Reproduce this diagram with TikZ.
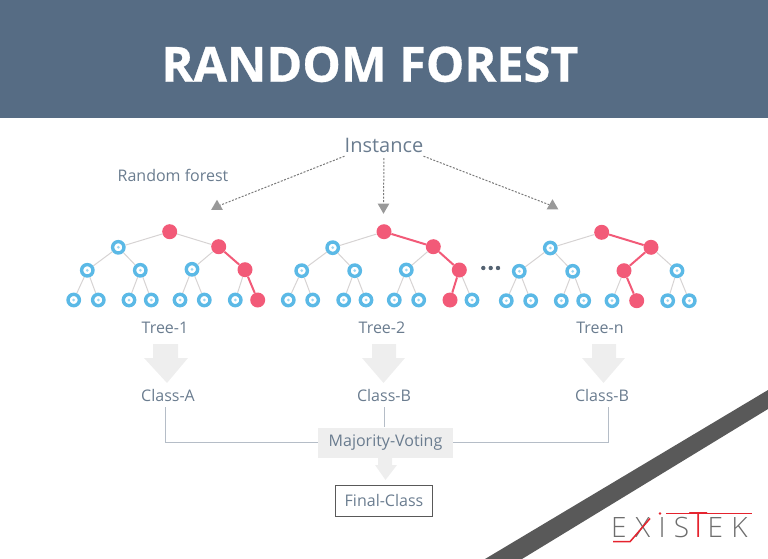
\documentclass[tikz,border=0pt]{standalone}
\usepackage{xcolor}
\usepackage{fontspec}
\usetikzlibrary{shapes.geometric}
\setmainfont{Open Sans}
\newfontfamily\logofont[LetterSpace=30]{Open Sans Light}
\definecolor{headercolor}{HTML}{566c84}
\definecolor{textcolor}{HTML}{6a7c8f}
\definecolor{leafcolor}{HTML}{5bb9e6}
\definecolor{hitcolor}{HTML}{f25a78}
\definecolor{edgecolor}{HTML}{d6d3d3}
\definecolor{blockcolor}{HTML}{eeeeee}
\definecolor{tipcolor}{HTML}{999999}
\definecolor{bandcolor}{HTML}{595959}
\definecolor{logored}{HTML}{e5232e}
\definecolor{logogray}{HTML}{6d6d6d}
\tikzset{
  leaf/.style={circle, draw=leafcolor, line width=3.4pt, fill=white, minimum size=11.4pt, inner sep=0pt,
    path picture={\fill[leafcolor!60] (path picture bounding box.center) circle (1.5pt);}},
  hit/.style={circle, fill=hitcolor, minimum size=15pt, inner sep=0pt},
  edge/.style={draw=edgecolor, line width=1pt},
  hitedge/.style={draw=hitcolor, line width=2pt},
  label/.style={text=textcolor, inner sep=1pt, font=\fontsize{16}{19}\selectfont},
  tiphead/.style={regular polygon, regular polygon sides=3, fill=tipcolor, inner sep=0pt, minimum size=13.5pt},
  dashline/.style={draw=tipcolor!80!black, line width=1pt, dash pattern=on 2pt off 1.5pt},
  classline/.style={draw=textcolor!50, line width=0.8pt},
  dotmark/.style={circle, fill=textcolor!80!black, minimum size=4.4pt, inner sep=0pt}
}

\begin{document}
\begin{tikzpicture}[x=1pt, y=-1pt]%
\useasboundingbox (0,0) rectangle (768,559);%
\fill[headercolor] (0,0) rectangle (768,118);%
\fill[bandcolor] (768,390) -- (768,409) -- (522,559) -- (485,559) -- cycle;%
\node[anchor=base, text=white, inner sep=0pt, font=\fontsize{48.5}{58}\selectfont\bfseries\addfontfeature{FakeBold=0.6}] (title) at (370,81.7) {RANDOM FOREST};%
\node[label, inner sep=0pt, minimum height=22pt, font=\fontsize{20}{24}\selectfont] (instance) at (384,145) {Instance};%
\node[label] (forest) at (173,175) {Random forest};%
\node[tiphead] (tipa) at (217,206.5) {};%
\node[tiphead, shape border rotate=180] (tipb) at (383.5,207) {};%
\node[tiphead] (tipc) at (552.5,206) {};%
\draw[dashline] (instance.south west) -- (tipa);%
\draw[dashline, shorten <=2pt] (instance.south) -- (tipb);%
\draw[dashline] (instance.south east) -- (tipc);%
\node[hit] (a0) at (169.7,231.7) {};%
\node[leaf] (a1) at (118.3,247.3) {};%
\node[hit] (a2) at (218.7,246.7) {};%
\node[leaf] (a3) at (87.3,270.3) {};%
\node[leaf] (a4) at (140.3,270.3) {};%
\node[leaf] (a5) at (192,269.3) {};%
\node[hit] (a6) at (245,269.7) {};%
\node[leaf] (a7) at (73.7,300) {};%
\node[leaf] (a8) at (98.3,300) {};%
\node[leaf] (a9) at (129,300) {};%
\node[leaf] (a10) at (151.3,300) {};%
\node[leaf] (a11) at (180,300) {};%
\node[leaf] (a12) at (204.3,300) {};%
\node[leaf] (a13) at (235.3,300) {};%
\node[hit] (a14) at (257.7,300) {};%
\draw[edge] (a0) -- (a1);%
\draw[edge] (a0) -- (a2);%
\draw[edge] (a1) -- (a3);%
\draw[edge] (a1) -- (a4);%
\draw[edge] (a2) -- (a5);%
\draw[hitedge] (a2) -- (a6);%
\draw[edge] (a3) -- (a7);%
\draw[edge] (a3) -- (a8);%
\draw[edge] (a4) -- (a9);%
\draw[edge] (a4) -- (a10);%
\draw[edge] (a5) -- (a11);%
\draw[edge] (a5) -- (a12);%
\draw[edge] (a6) -- (a13);%
\draw[hitedge] (a6) -- (a14);%
\node[hit] (b0) at (384,231.7) {};%
\node[leaf] (b1) at (332.7,247.7) {};%
\node[hit] (b2) at (433.3,246.7) {};%
\node[leaf] (b3) at (301.7,270.7) {};%
\node[leaf] (b4) at (354.7,270.7) {};%
\node[leaf] (b5) at (406.3,270) {};%
\node[hit] (b6) at (459.3,270) {};%
\node[leaf] (b7) at (288.3,300) {};%
\node[leaf] (b8) at (312.7,300) {};%
\node[leaf] (b9) at (343.7,300) {};%
\node[leaf] (b10) at (366,300) {};%
\node[leaf] (b11) at (394.3,300) {};%
\node[leaf] (b12) at (418.7,300) {};%
\node[hit] (b13) at (450,300) {};%
\node[leaf] (b14) at (472,300) {};%
\draw[edge] (b0) -- (b1);%
\draw[hitedge] (b0) -- (b2);%
\draw[edge] (b1) -- (b3);%
\draw[edge] (b1) -- (b4);%
\draw[edge] (b2) -- (b5);%
\draw[hitedge] (b2) -- (b6);%
\draw[edge] (b3) -- (b7);%
\draw[edge] (b3) -- (b8);%
\draw[edge] (b4) -- (b9);%
\draw[edge] (b4) -- (b10);%
\draw[edge] (b5) -- (b11);%
\draw[edge] (b5) -- (b12);%
\draw[hitedge] (b6) -- (b13);%
\draw[edge] (b6) -- (b14);%
\node[dotmark] (dot1) at (483.3,268) {};%
\node[dotmark] (dot2) at (490.7,268) {};%
\node[dotmark] (dot3) at (498,268) {};%
\node[hit] (c0) at (601.7,232.3) {};%
\node[leaf] (c1) at (550.3,248) {};%
\node[hit] (c2) at (651,247.3) {};%
\node[leaf] (c3) at (519.3,271.3) {};%
\node[leaf] (c4) at (572.7,271.3) {};%
\node[hit] (c5) at (624,270.7) {};%
\node[leaf] (c6) at (677,270.7) {};%
\node[leaf] (c7) at (506.3,300.7) {};%
\node[leaf] (c8) at (530.7,300.7) {};%
\node[leaf] (c9) at (561.3,300.7) {};%
\node[leaf] (c10) at (583.7,300.7) {};%
\node[leaf] (c11) at (612,300.7) {};%
\node[hit] (c12) at (636.7,300.7) {};%
\node[leaf] (c13) at (667.7,300.7) {};%
\node[leaf] (c14) at (689.3,300.7) {};%
\draw[edge] (c0) -- (c1);%
\draw[hitedge] (c0) -- (c2);%
\draw[edge] (c1) -- (c3);%
\draw[edge] (c1) -- (c4);%
\draw[hitedge] (c2) -- (c5);%
\draw[edge] (c2) -- (c6);%
\draw[edge] (c3) -- (c7);%
\draw[edge] (c3) -- (c8);%
\draw[edge] (c4) -- (c9);%
\draw[edge] (c4) -- (c10);%
\draw[edge] (c5) -- (c11);%
\draw[hitedge] (c5) -- (c12);%
\draw[edge] (c6) -- (c13);%
\draw[edge] (c6) -- (c14);%
\node[label] (treea) at (165,328) {Tree-1};%
\node[label] (treeb) at (382,328) {Tree-2};%
\node[label] (treec) at (600,328) {Tree-n};%
\fill[blockcolor] (153,344) -- (178,344) -- (178,358) -- (188,358) -- (167,383) -- (144,358) -- (153,358) -- cycle;%
\fill[blockcolor] (372,344) -- (396,344) -- (396,358) -- (405,358) -- (383.5,383) -- (362,358) -- (372,358) -- cycle;%
\fill[blockcolor] (592,344) -- (616,344) -- (616,358) -- (625,358) -- (603.5,383) -- (582,358) -- (592,358) -- cycle;%
\node[label] (classa) at (168,395) {Class-A};%
\node[label] (classb) at (384,395) {Class-B};%
\node[label] (classc) at (602,395) {Class-B};%
\node[fill=blockcolor, label, minimum width=135pt, minimum height=30pt] (voting) at (385.5,442.5) {Majority-Voting};%
\coordinate (turna) at (165.5,407);%
\coordinate (turnb) at (384.3,407);%
\coordinate (turnc) at (608.5,407);%
\draw[classline] (turna) |- (voting.west);%
\draw[classline] (turnb) -- (turnb |- voting.north);%
\draw[classline] (turnc) |- (voting.east);%
\fill[blockcolor] (378,457) -- (392,457) -- (392,465) -- (397,465) -- (385.5,480) -- (375,465) -- (378,465) -- cycle;%
\node[draw=bandcolor, line width=0.8pt, label, minimum width=97pt, minimum height=31pt] (final) at (384,500.5) {Final-Class};%
\node[anchor=base west, inner sep=0pt, text=logogray, font=\fontsize{28}{34}\logofont] (logo) at (611,537.7) {EXIS{\fontsize{35}{34}\logofont\color{logored}T}EK};%
\draw[draw=logored, line width=1.5pt] (613,541.7) -- (630,541.7) -- (650,518.5);%
\draw[draw=logored, line width=1.5pt] (666,513.3) -- (752,513.3);%
\fill[logored] (660,513.5) circle (1.4pt);%
\end{tikzpicture}
\end{document}
